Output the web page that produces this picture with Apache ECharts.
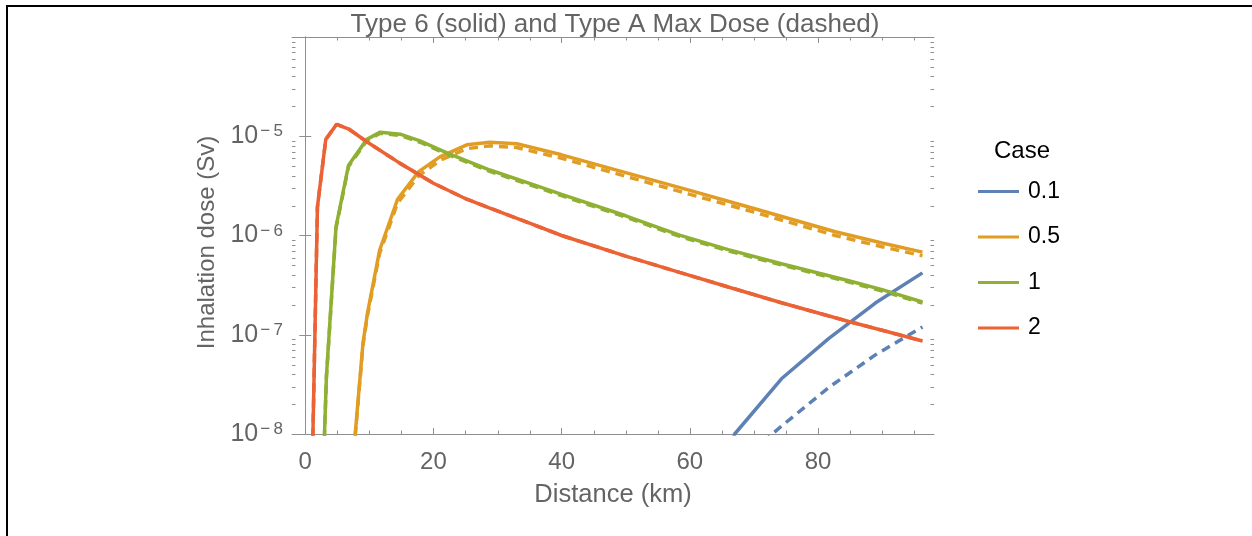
<!DOCTYPE html>
<html>
<head>
<meta charset="utf-8">
<script src="https://cdn.jsdelivr.net/npm/echarts@6/dist/echarts.min.js"></script>
<style>
html,body{margin:0;padding:0;background:#fff;}
#chart{width:1252px;height:536px;}
</style>
</head>
<body>
<div id="chart"></div>
<script>
// ---- data ----
const caseNames = ['0.1', '0.5', '1', '2'];

const distCase01 = [59.7, 67.0, 74.3, 81.7, 89.0, 96.3];
const dose6Case01 = [1e-10, 1.0e-8, 3.6e-8, 9.2e-8, 2.1e-7, 4.2e-7];
const doseACase01 = [1e-10, 4.7e-9, 1.2e-8, 2.95e-8, 6.3e-8, 1.2e-7];

const distCase05 = [7.0, 9.0, 9.7, 11.6, 14.4, 17.7, 21.0, 25.2, 28.8, 33, 40, 50, 60, 70, 82.7, 90, 96.3];
const dose6Case05 = [2.5e-9, 8.2e-8, 1.64e-7, 7.1e-7, 2.32e-6, 4.4e-6, 6.2e-6, 8.2e-6, 8.7e-6, 8.4e-6, 6.5e-6, 4.3e-6, 2.85e-6, 1.87e-6, 1.09e-6, 8.4e-7, 6.8e-7];
const doseACase05 = [2.4e-9, 7.8e-8, 1.56e-7, 6.6e-7, 2.12e-6, 4.0e-6, 5.7e-6, 7.5e-6, 8.0e-6, 7.7e-6, 6.0e-6, 3.95e-6, 2.6e-6, 1.72e-6, 1.0e-6, 7.7e-7, 6.25e-7];

const distCase1 = [2.5, 3.3, 4.8, 6.75, 9.6, 11.7, 14.8, 17.9, 22.1, 25.2, 28.8, 35, 40, 50, 58.4, 66, 74.3, 84.8, 90, 96.3];
const dose6Case1 = [1.1e-9, 3.8e-8, 1.23e-6, 5.1e-6, 9.3e-6, 1.10e-5, 1.05e-5, 9.0e-6, 6.8e-6, 5.66e-6, 4.57e-6, 3.35e-6, 2.6e-6, 1.58e-6, 1.01e-6, 7.2e-7, 5.2e-7, 3.5e-7, 2.85e-7, 2.14e-7];
const doseACase1 = [1.1e-9, 3.7e-8, 1.19e-6, 4.95e-6, 9.0e-6, 1.07e-5, 1.02e-5, 8.7e-6, 6.6e-6, 5.5e-6, 4.43e-6, 3.25e-6, 2.52e-6, 1.53e-6, 9.8e-7, 7.0e-7, 5.05e-7, 3.4e-7, 2.76e-7, 2.08e-7];

const distCase2 = [1.0, 1.9, 3.2, 4.9, 6.9, 9.6, 14.8, 20, 25.2, 28.9, 35, 40, 50, 58.4, 66, 74.3, 84.8, 90, 96.3];
const dose6Case2 = [2.3e-9, 1.95e-6, 9.3e-6, 1.32e-5, 1.17e-5, 8.8e-6, 5.33e-6, 3.36e-6, 2.32e-6, 1.88e-6, 1.33e-6, 1.0e-6, 6.2e-7, 4.25e-7, 3.03e-7, 2.1e-7, 1.36e-7, 1.11e-7, 8.65e-8];
const doseACase2 = [2.3e-9, 1.95e-6, 9.3e-6, 1.32e-5, 1.17e-5, 8.8e-6, 5.33e-6, 3.36e-6, 2.32e-6, 1.88e-6, 1.33e-6, 1.0e-6, 6.2e-7, 4.25e-7, 3.03e-7, 2.1e-7, 1.36e-7, 1.11e-7, 8.65e-8];

const xMajorTicks = [0, 20, 40, 60, 80];
const xMinorTicks = [5, 10, 15, 25, 30, 35, 45, 50, 55, 65, 70, 75, 85, 90, 95];
const yLabelExponents = [-8, -7, -6, -5];
const yMinorMantissas = [2, 3, 4, 5, 6, 7, 8, 9];
const yMinorDecades = [-8, -7, -6, -5];

const titleText = 'Type 6 (solid) and Type A Max Dose (dashed)';
const xName = 'Distance (km)';
const yName = 'Inhalation dose (Sv)';
const legendTitle = 'Case';

// ---- styling ----
const X_MIN = -2.07, X_MAX = 98.1, Y_MIN = 1e-8, Y_MAX = 1e-4;
const colors = ['#5E81B5', '#E19C24', '#8FB032', '#EB6235'];
const frameColor = '#8f8f8f';
const textColor = '#646464';
const FONT = "'Liberation Sans', Arial, Helvetica, sans-serif";
const LW = 3.5;

const groups = [
  [distCase01, dose6Case01, doseACase01],
  [distCase05, dose6Case05, doseACase05],
  [distCase1, dose6Case1, doseACase1],
  [distCase2, dose6Case2, doseACase2]
];

const series = [];
groups.forEach((g, k) => {
  series.push({
    name: caseNames[k] + ' (A)', type: 'line', xAxisIndex: 0, yAxisIndex: 0,
    data: g[0].map((d, i) => [d, g[2][i]]),
    symbol: 'none', clip: true, silent: true, z: 2,
    lineStyle: { color: colors[k], width: LW, type: [9, 6] },
    itemStyle: { color: colors[k] }
  });
});
groups.forEach((g, k) => {
  series.push({
    name: caseNames[k], type: 'line', xAxisIndex: 0, yAxisIndex: 0,
    data: g[0].map((d, i) => [d, g[1][i]]),
    symbol: 'none', clip: true, silent: true, z: 3,
    lineStyle: { color: colors[k], width: LW, type: 'solid' },
    itemStyle: { color: colors[k] }
  });
});

const yMinorData = [];
yMinorDecades.forEach(e => yMinorMantissas.forEach(m => yMinorData.push([X_MIN, m * Math.pow(10, e)])));
const xMinorData = xMinorTicks.map(v => [v, Y_MIN]);

function tickLine(x1, y1, x2, y2) {
  return { type: 'line', shape: { x1, y1, x2, y2 }, style: { stroke: frameColor, lineWidth: 1 } };
}
series.push({
  type: 'custom', xAxisIndex: 0, yAxisIndex: 0, silent: true, clip: false, z: 5,
  data: yMinorData,
  renderItem(params, api) {
    const cs = params.coordSys;
    const p = api.coord([api.value(0), api.value(1)]);
    const y = Math.round(p[1]) + 0.5;
    return { type: 'group', children: [
      tickLine(cs.x, y, cs.x + 3.5, y),
      tickLine(cs.x + cs.width - 3.5, y, cs.x + cs.width, y)
    ]};
  }
});
series.push({
  type: 'custom', xAxisIndex: 0, yAxisIndex: 0, silent: true, clip: false, z: 5,
  data: xMinorData,
  renderItem(params, api) {
    const cs = params.coordSys;
    const p = api.coord([api.value(0), api.value(1)]);
    const x = Math.round(p[0]) + 0.5;
    return { type: 'group', children: [
      tickLine(x, cs.y + cs.height, x, cs.y + cs.height - 3.5),
      tickLine(x, cs.y, x, cs.y + 3.5)
    ]};
  }
});

const axisLineStyle = { show: true, lineStyle: { color: frameColor, width: 1 } };
const majorTick = { show: true, inside: true, length: 6, lineStyle: { color: frameColor, width: 1 } };

const option = {
  animation: false,
  backgroundColor: '#fff',
  textStyle: { fontFamily: FONT },
  title: [
    { text: titleText, left: 610, top: 7, textAlign: 'center',
      textStyle: { fontFamily: FONT, fontSize: 26, fontWeight: 'normal', color: textColor } },
    { text: legendTitle, left: 989, top: 134,
      textStyle: { fontFamily: FONT, fontSize: 24, fontWeight: 'normal', color: '#000' } }
  ],
  legend: {
    data: caseNames, orient: 'vertical', left: 973, top: 175,
    itemWidth: 41, itemHeight: 3, itemGap: 22.5,
    icon: 'rect',
    selectedMode: false,
    textStyle: { fontFamily: FONT, fontSize: 23, color: '#000', padding: [0, 0, 0, 4] }
  },
  grid: { left: 292, top: 37, right: 318, bottom: 102, containLabel: false },
  xAxis: [
    {
      type: 'value', position: 'bottom', min: X_MIN, max: X_MAX,
      name: xName, nameLocation: 'middle', nameGap: 48,
      nameTextStyle: { fontFamily: FONT, fontSize: 25.5, color: textColor },
      axisLine: axisLineStyle,
      axisTick: Object.assign({ customValues: xMajorTicks }, majorTick),
      axisLabel: { customValues: xMajorTicks, margin: 16, fontFamily: FONT, fontSize: 24, color: textColor },
      splitLine: { show: false }
    },
    {
      type: 'value', position: 'top', min: X_MIN, max: X_MAX,
      axisLine: axisLineStyle,
      axisTick: Object.assign({ customValues: xMajorTicks }, majorTick),
      axisLabel: { show: false },
      splitLine: { show: false }
    }
  ],
  yAxis: [
    {
      type: 'log', logBase: 10, position: 'left', min: Y_MIN, max: Y_MAX,
      name: yName, nameLocation: 'middle', nameGap: 68,
      nameTextStyle: { fontFamily: FONT, fontSize: 24, color: textColor, padding: [0, 14, 0, 0] },
      axisLine: axisLineStyle,
      axisTick: majorTick,
      axisLabel: {
        margin: 9, fontFamily: FONT, color: textColor,
        formatter: function (v) {
          const e = Math.round(Math.log10(v));
          if (yLabelExponents.indexOf(e) < 0) return '';
          return '{b|10}{s|\u2212\u2009' + Math.abs(e) + '}';
        },
        rich: {
          b: { fontFamily: FONT, fontSize: 25, color: textColor, lineHeight: 26 },
          s: { fontFamily: FONT, fontSize: 17, color: textColor, verticalAlign: 'top', lineHeight: 17, padding: [0, 0, 0, 2] }
        }
      },
      splitLine: { show: false },
      minorTick: { show: false }
    },
    {
      type: 'log', logBase: 10, position: 'right', min: Y_MIN, max: Y_MAX,
      axisLine: axisLineStyle,
      axisTick: majorTick,
      axisLabel: { show: false },
      splitLine: { show: false }
    }
  ],
  graphic: [
    { type: 'rect', shape: { x: 6, y: 5, width: 1246, height: 2 }, style: { fill: '#000' }, silent: true },
    { type: 'rect', shape: { x: 6, y: 5, width: 2, height: 531 }, style: { fill: '#000' }, silent: true }
  ],
  series: series
};

const chart = echarts.init(document.getElementById('chart'), null, { renderer: 'canvas', width: 1252, height: 536 });
chart.setOption(option);
</script>
</body>
</html>
